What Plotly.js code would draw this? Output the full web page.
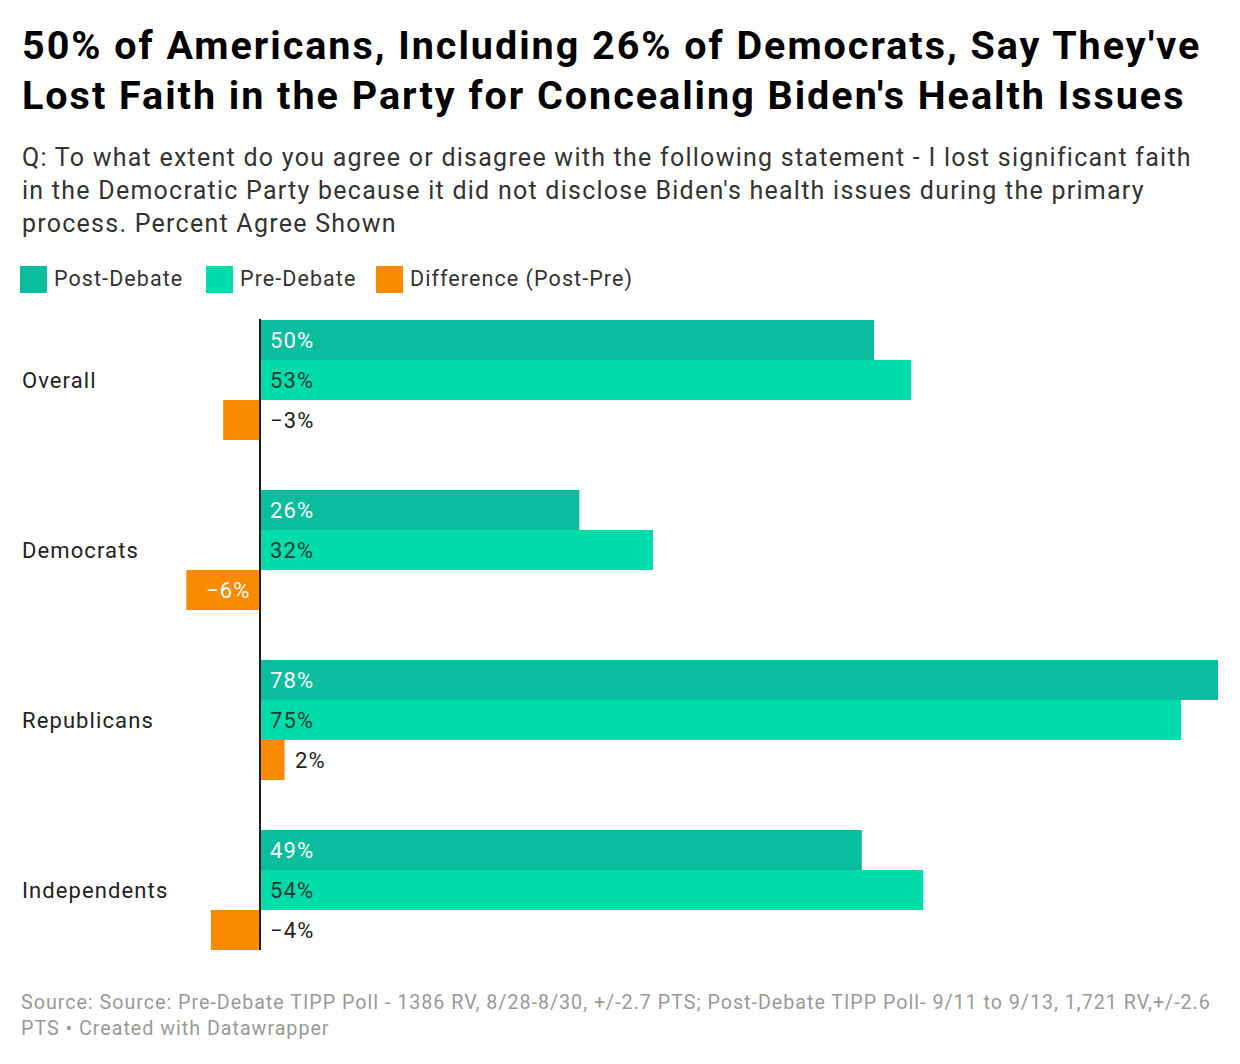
<!DOCTYPE html>
<html>
<head>
<meta charset="utf-8">
<script src="https://cdn.plot.ly/plotly-3.0.1.min.js"></script>
<style>
  html, body { margin: 0; padding: 0; background: #ffffff; }
  #chart { width: 1240px; height: 1064px; }
  svg text { letter-spacing: 0.05em; }
</style>
</head>
<body>
<div id="chart"></div>
<script>
// ---- Data ----
const categories = ['Overall', 'Democrats', 'Republicans', 'Independents'];
const postDebate = [50, 26, 78, 49];
const preDebate = [53, 32, 75, 54];
const difference = [-3, -6, 2, -4];
const seriesNames = ['Post-Debate', 'Pre-Debate', 'Difference (Post-Pre)'];

const titleLines = [
  "50% of Americans, Including 26% of Democrats, Say They've",
  "Lost Faith in the Party for Concealing Biden's Health Issues"
];
const subtitleLines = [
  "Q: To what extent do you agree or disagree with the following statement - I lost significant faith",
  "in the Democratic Party because it did not disclose Biden's health issues during the primary",
  "process. Percent Agree Shown"
];
const footerLines = [
  "Source: Source: Pre-Debate TIPP Poll - 1386 RV, 8/28-8/30, +/-2.7 PTS; Post-Debate TIPP Poll- 9/11 to 9/13, 1,721 RV,+/-2.6",
  "PTS \u2022 Created with Datawrapper"
];

// ---- Style ----
const FONT = 'Roboto, "Open Sans", sans-serif';
const C_POST = '#0bbd9f';
const C_PRE = '#00dcaa';
const C_DIFF = '#f98b00';

const W = 1240, H = 1064;
const M = { l: 20, r: 22, t: 295, b: 89 };
const PH = H - M.t - M.b;
const PW = W - M.l - M.r;
const py = (px) => (H - M.b - px) / PH;
const pxX = (px) => (px - M.l) / PW;

function fmt(v) { return (v < 0 ? '\u2212' + Math.abs(v) : String(v)) + '%'; }

const traces = [
  { name: seriesNames[0], values: postDebate, color: C_POST },
  { name: seriesNames[1], values: preDebate, color: C_PRE },
  { name: seriesNames[2], values: difference, color: C_DIFF }
].map(s => ({
  type: 'bar', orientation: 'h', name: s.name,
  y: categories, x: s.values,
  marker: { color: s.color, line: { width: 0 } },
  hoverinfo: 'skip', showlegend: false
}));

const annotations = [];
// titles
titleLines.forEach((t, i) => annotations.push({
  text: '<b>' + t + '</b>', xref: 'paper', yref: 'paper', x: 0, xanchor: 'left', xshift: 0,
  y: py([46, 96][i]), yanchor: 'middle', showarrow: false,
  font: { family: FONT, size: 39.5, color: '#000000' }
}));
subtitleLines.forEach((t, i) => annotations.push({
  text: t, xref: 'paper', yref: 'paper', x: 0, xanchor: 'left', xshift: 0,
  y: py([157, 190.5, 224][i]), yanchor: 'middle', showarrow: false,
  font: { family: FONT, size: 25, color: '#333333' }
}));
footerLines.forEach((t, i) => annotations.push({
  text: t, xref: 'paper', yref: 'paper', x: 0, xanchor: 'left', xshift: -1,
  y: py([1002.5, 1028.5][i]), yanchor: 'middle', showarrow: false,
  font: { family: FONT, size: 19.7, color: '#999999' }
}));
// legend
const legendSw = [20, 206, 376];
const legendColors = [C_POST, C_PRE, C_DIFF];
const shapes = [];
seriesNames.forEach((n, i) => {
  shapes.push({ type: 'rect', xref: 'paper', yref: 'paper',
    x0: pxX(legendSw[i]), x1: pxX(legendSw[i] + 27), y0: py(293), y1: py(266),
    fillcolor: legendColors[i], line: { width: 0 } });
  annotations.push({ text: n, xref: 'paper', yref: 'paper', x: pxX(legendSw[i] + 32), xanchor: 'left',
    y: py(278.5), yanchor: 'middle', showarrow: false,
    font: { family: FONT, size: 21.5, color: '#333333' } });
});
// category labels
categories.forEach(c => annotations.push({
  text: c, xref: 'paper', yref: 'y', x: 0, xanchor: 'left', xshift: 0,
  y: c, yanchor: 'middle', showarrow: false,
  font: { family: FONT, size: 22, color: '#222222' }
}));
// value labels
categories.forEach((c, i) => {
  annotations.push({ text: fmt(postDebate[i]), xref: 'x', yref: 'y', x: 0, xanchor: 'left', xshift: 8,
    y: c, yshift: 40, yanchor: 'middle', showarrow: false,
    font: { family: FONT, size: 22, color: '#ffffff' } });
  annotations.push({ text: fmt(preDebate[i]), xref: 'x', yref: 'y', x: 0, xanchor: 'left', xshift: 8,
    y: c, yshift: 0, yanchor: 'middle', showarrow: false,
    font: { family: FONT, size: 22, color: '#1d3b34' } });
  const d = difference[i];
  let a;
  if (d < 0 && Math.abs(d) >= 5) {
    a = { x: 0, xanchor: 'right', xshift: -8, color: '#ffffff' };
  } else if (d < 0) {
    a = { x: 0, xanchor: 'left', xshift: 8, color: '#222222' };
  } else {
    a = { x: d, xanchor: 'left', xshift: 8, color: '#222222' };
  }
  annotations.push({ text: fmt(d), xref: 'x', yref: 'y', x: a.x, xanchor: a.xanchor, xshift: a.xshift,
    y: c, yshift: -40, yanchor: 'middle', showarrow: false,
    font: { family: FONT, size: 22, color: a.color } });
});
// zero line
shapes.push({ type: 'line', xref: 'x', yref: 'paper', x0: 0, x1: 0, y0: py(950), y1: py(319),
  line: { color: '#1d1d1d', width: 2 }, layer: 'above' });

const xmax = 78, pxPerUnit = 958 / 78;
const xmin = xmax - PW / pxPerUnit;

const layout = {
  width: W, height: H,
  margin: M,
  paper_bgcolor: '#ffffff', plot_bgcolor: '#ffffff',
  barmode: 'group', bargap: 50 / 170, bargroupgap: 0,
  showlegend: false,
  xaxis: { range: [xmin, xmax], visible: false, fixedrange: true },
  yaxis: { type: 'category', autorange: 'reversed', visible: false, fixedrange: true },
  annotations: annotations,
  shapes: shapes,
  font: { family: FONT }
};

Plotly.newPlot('chart', traces, layout, { displayModeBar: false, staticPlot: true });
</script>
</body>
</html>
